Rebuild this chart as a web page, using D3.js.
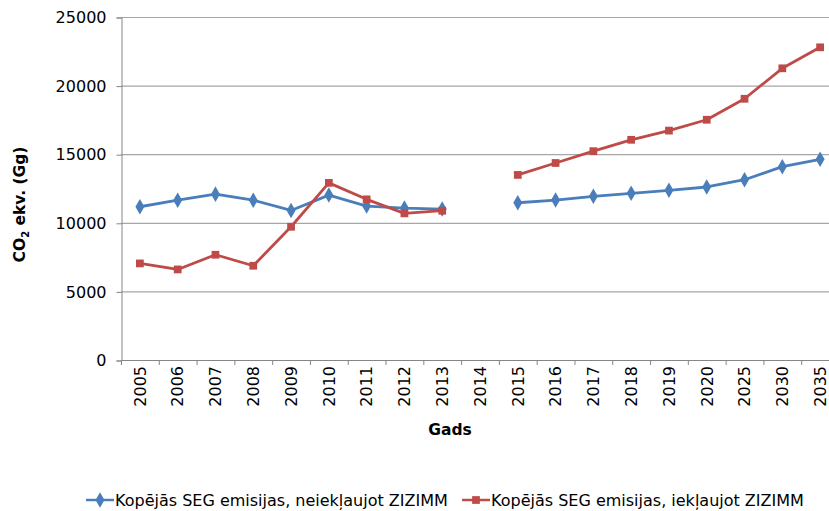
<!DOCTYPE html>
<html lang="lv">
<head>
    <meta charset="UTF-8">
    <title>SEG emisijas</title>
    <style>
        body { margin: 0; background: #fff; }
        text { font-family: Verdana, 'DejaVu Sans', sans-serif; fill: #000; }
    </style>
</head>
<body>
    <svg id="svg" width="829" height="511"></svg>

    <script src="https://d3js.org/d3.v7.min.js"></script>
    <script>
        // data
        const years = ['2005', '2006', '2007', '2008', '2009', '2010', '2011', '2012', '2013', '2014',
            '2015', '2016', '2017', '2018', '2019', '2020', '2025', '2030', '2035']
        const withoutLulucf = [11170, 11650, 12090, 11650, 10900, 12020, 11220, 11070, 11000, null,
            11460, 11660, 11930, 12150, 12370, 12610, 13140, 14090, 14630]
        const withLulucf = [7040, 6600, 7670, 6870, 9710, 12910, 11710, 10690, 10880, null,
            13490, 14360, 15220, 16050, 16720, 17510, 19040, 21260, 22790]
        const yTicks = [0, 5000, 10000, 15000, 20000, 25000]
        const seriesNames = ['Kopējās SEG emisijas, neiekļaujot ZIZIMM', 'Kopējās SEG emisijas, iekļaujot ZIZIMM']

        const series = [
            { name: seriesNames[0], values: withoutLulucf, color: '#4a7ebb', symbol: d3.symbolDiamond, size: 70 },
            { name: seriesNames[1], values: withLulucf, color: '#be4b48', symbol: d3.symbolSquare, size: 60 }
        ]

        const fontSize = '16px'

        // scales
        const plotL = 121, plotR = 839, plotT = 17, plotB = 360
        const xScale = d3.scaleBand()
            .domain(years)
            .range([plotL, plotR])
            .padding(0)
        const yScale = d3.scaleLinear()
            .domain([0, 25000])
            .range([plotB, plotT])
        const cx = d => xScale(d) + xScale.bandwidth() / 2

        const svg = d3.select('#svg')

        // gridlines
        svg.append('g')
            .selectAll('line')
            .data(yTicks.slice(1))
            .enter()
            .append('line')
            .attr('x1', plotL)
            .attr('x2', plotR)
            .attr('y1', d => yScale(d) + 0.5)
            .attr('y2', d => yScale(d) + 0.5)
            .attr('stroke', '#a6a6a6')
            .attr('stroke-width', 1.2)

        // y axis
        const yAxis = svg.append('g')
            .attr('transform', `translate(${plotL + 0.5},0.5)`)
            .call(d3.axisLeft(yScale).tickValues(yTicks).tickSize(5).tickPadding(10).tickFormat(d3.format('d')))
        yAxis.select('.domain').attr('stroke', '#868686')
        yAxis.selectAll('.tick line').attr('stroke', '#868686')
        yAxis.selectAll('.tick text')
            .style('font-size', fontSize)
            .style('font-family', "Verdana, 'DejaVu Sans', sans-serif")
            .attr('fill', '#000')

        // x axis
        const xAxis = svg.append('g')
        xAxis.append('line')
            .attr('x1', plotL)
            .attr('x2', plotR)
            .attr('y1', plotB + 0.5)
            .attr('y2', plotB + 0.5)
            .attr('stroke', '#868686')
        xAxis.selectAll('line.tk')
            .data(years.concat(['end']))
            .enter()
            .append('line')
            .attr('class', 'tk')
            .attr('x1', d => (d === 'end' ? plotR : xScale(d)) + 0.5)
            .attr('x2', d => (d === 'end' ? plotR : xScale(d)) + 0.5)
            .attr('y1', plotB)
            .attr('y2', plotB + 5)
            .attr('stroke', '#868686')
        xAxis.selectAll('text')
            .data(years)
            .enter()
            .append('text')
            .text(d => d)
            .attr('transform', d => `translate(${cx(d)},${plotB + 6}) rotate(-90)`)
            .attr('dy', '0.36em')
            .attr('text-anchor', 'end')
            .style('font-size', fontSize)

        // axis titles
        const yTitle = svg.append('text')
            .attr('transform', `translate(25,${(plotT + plotB) / 2 + 16}) rotate(-90)`)
            .attr('text-anchor', 'middle')
            .style('font-size', '15.5px')
            .style('font-weight', 'bold')
        yTitle.append('tspan').text('CO')
        yTitle.append('tspan').text('2').attr('dy', 4).style('font-size', '10px')
        yTitle.append('tspan').text(' ekv. (Gg)').attr('dy', -4)

        svg.append('text')
            .text('Gads')
            .attr('x', 450)
            .attr('y', 435)
            .attr('text-anchor', 'middle')
            .style('font-size', '15.5px')
            .style('font-weight', 'bold')

        // lines
        const line = d3.line()
            .defined(d => d.v !== null)
            .x(d => cx(d.year))
            .y(d => yScale(d.v))

        series.forEach(s => {
            const pts = years.map((y, i) => ({ year: y, v: s.values[i] }))
            const g = svg.append('g')
            g.append('path')
                .attr('d', line(pts))
                .attr('fill', 'none')
                .attr('stroke', s.color)
                .attr('stroke-width', 2.8)
                .attr('stroke-linejoin', 'round')
            g.selectAll('path.m')
                .data(pts.filter(d => d.v !== null))
                .enter()
                .append('path')
                .attr('class', 'm')
                .attr('d', d3.symbol().type(s.symbol).size(s.size))
                .attr('transform', d => `translate(${cx(d.year)},${yScale(d.v)})`)
                .attr('fill', s.color)
        })

        // legend
        const legendItems = [
            { s: series[0], x: 86 },
            { s: series[1], x: 462 }
        ]
        const legend = svg.append('g')
            .selectAll('g')
            .data(legendItems)
            .enter()
            .append('g')
            .attr('transform', d => `translate(${d.x},500)`)
        legend.append('line')
            .attr('x1', 0)
            .attr('x2', 28)
            .attr('stroke', d => d.s.color)
            .attr('stroke-width', 2.5)
        legend.append('path')
            .attr('d', d => d3.symbol().type(d.s.symbol).size(d.s.size)())
            .attr('transform', 'translate(14,0)')
            .attr('fill', d => d.s.color)
        legend.append('text')
            .text(d => d.s.name)
            .attr('x', 29)
            .attr('dy', '0.35em')
            .style('font-size', fontSize)
    </script>
</body>
</html>
